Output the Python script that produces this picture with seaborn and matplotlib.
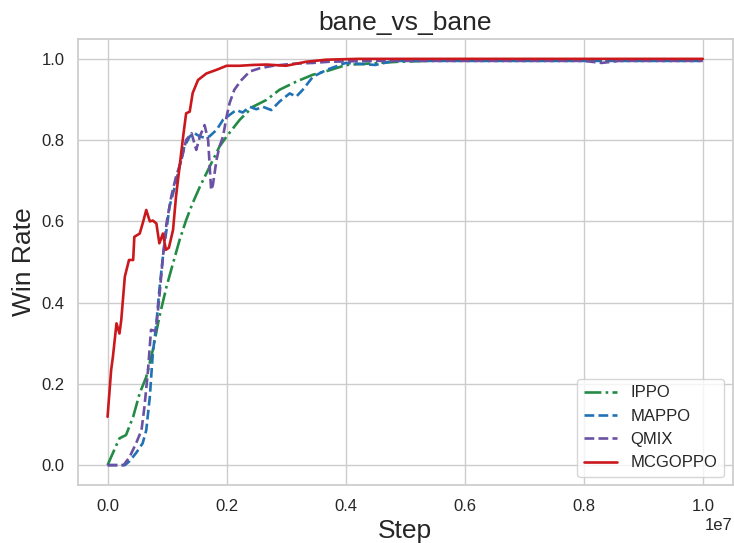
import matplotlib
matplotlib.use("Agg")
import matplotlib.pyplot as plt
import numpy as np
import pandas as pd
import seaborn as sns

# Steps are in millions of environment steps
ippo_step = [0.0, 0.09, 0.2, 0.31, 0.43, 0.54, 0.65, 0.76, 0.87, 0.99, 1.1, 1.21, 1.32, 1.43,
             1.55, 1.66, 1.77, 1.88, 2.0, 2.22, 2.44, 2.67, 2.89, 3.17, 3.45, 3.73, 4.01,
             4.9, 5.75, 7.0, 8.5, 10.0]
ippo_win = [0.0, 0.03, 0.066, 0.074, 0.119, 0.177, 0.217, 0.283, 0.365, 0.439, 0.497, 0.554,
            0.603, 0.645, 0.685, 0.718, 0.751, 0.784, 0.809, 0.85, 0.882, 0.899, 0.924, 0.944,
            0.961, 0.972, 0.985, 0.993, 0.997, 0.997, 0.997, 0.997]

mappo_step = [0.0, 0.2, 0.29, 0.37, 0.48, 0.59, 0.65, 0.71, 0.76, 0.82, 0.87, 0.93, 0.99,
              1.04, 1.13, 1.21, 1.29, 1.38, 1.46, 1.55, 1.63, 1.71, 1.83, 1.94, 2.05, 2.16,
              2.27, 2.39, 2.5, 2.61, 2.75, 2.89, 3.06, 3.17, 3.28, 3.45, 3.68, 4.0, 4.5,
              4.8, 5.2, 6.0, 7.0, 8.0, 9.0, 10.0]
mappo_win = [0.0, 0.0, 0.0, 0.01, 0.03, 0.054, 0.086, 0.168, 0.275, 0.349, 0.431, 0.513,
             0.579, 0.636, 0.685, 0.735, 0.784, 0.809, 0.817, 0.809, 0.806, 0.809, 0.825,
             0.85, 0.862, 0.874, 0.868, 0.882, 0.876, 0.882, 0.874, 0.895, 0.915, 0.907,
             0.924, 0.956, 0.973, 0.99, 0.985, 0.995, 0.995, 0.995, 0.995, 0.995, 0.995, 0.995]

qmix_step = [0.0, 0.27, 0.37, 0.48, 0.57, 0.62, 0.68, 0.73, 0.81, 0.87, 0.93, 0.99, 1.07,
             1.15, 1.24, 1.32, 1.41, 1.49, 1.55, 1.63, 1.69, 1.74, 1.77, 1.83, 1.88, 1.94,
             2.0, 2.05, 2.13, 2.25, 2.39, 2.56, 2.78, 3.11, 3.45, 3.73, 4.5, 6.0, 8.0, 8.3,
             8.6, 10.0]
qmix_win = [0.0, 0.0, 0.02, 0.054, 0.086, 0.144, 0.234, 0.333, 0.33, 0.414, 0.513, 0.595,
            0.661, 0.71, 0.751, 0.8, 0.817, 0.776, 0.809, 0.837, 0.8, 0.677, 0.69, 0.751,
            0.784, 0.809, 0.858, 0.891, 0.924, 0.948, 0.969, 0.977, 0.983, 0.988, 0.99,
            0.993, 0.995, 0.995, 0.995, 0.99, 0.995, 0.995]

mcgoppo_step = [0.0, 0.06, 0.09, 0.15, 0.2, 0.23, 0.29, 0.36, 0.43, 0.45, 0.54, 0.59, 0.65,
                0.71, 0.76, 0.82, 0.87, 0.93, 0.98, 1.03, 1.1, 1.15, 1.21, 1.27, 1.32, 1.38,
                1.43, 1.52, 1.66, 1.83, 2.0, 2.22, 2.44, 2.67, 3.0, 3.34, 3.68, 4.2, 5.0,
                7.0, 10.0]
mcgoppo_win = [0.119, 0.234, 0.267, 0.349, 0.324, 0.357, 0.464, 0.505, 0.505, 0.562, 0.57,
               0.595, 0.628, 0.6, 0.602, 0.595, 0.546, 0.57, 0.53, 0.535, 0.579, 0.661,
               0.735, 0.809, 0.866, 0.87, 0.916, 0.948, 0.964, 0.973, 0.983, 0.983, 0.985,
               0.986, 0.983, 0.993, 0.998, 1.0, 1.0, 1.0, 1.0]

series = [
    ("IPPO", ippo_step, ippo_win, "#238b45", "-."),
    ("MAPPO", mappo_step, mappo_win, "#2171b5", "--"),
    ("QMIX", qmix_step, qmix_win, "#6a51a3", "--"),
    ("MCGOPPO", mcgoppo_step, mcgoppo_win, "#cb181d", "-"),
]

sns.set_theme(style="whitegrid")
plt.rcParams['font.family'] = ['Liberation Sans', 'DejaVu Sans']

fig, ax = plt.subplots(figsize=(7.34, 5.43), dpi=100)
for name, steps, win, color, ls in series:
    df = pd.DataFrame({'step': np.array(steps) * 1e6, 'win': win})
    sns.lineplot(data=df, x='step', y='win', ax=ax, color=color, linestyle=ls,
                 linewidth=1.9, label=name)

ax.set_title('bane_vs_bane', fontsize=19)
ax.set_xlabel('Step', fontsize=19)
ax.set_ylabel('Win Rate', fontsize=19)
ax.tick_params(labelsize=12)
ax.xaxis.get_offset_text().set_fontsize(12)
ax.legend(loc='lower right', fontsize=12)
fig.subplots_adjust(left=0.106, right=0.998, top=0.929, bottom=0.106)
fig.savefig('out.png')
